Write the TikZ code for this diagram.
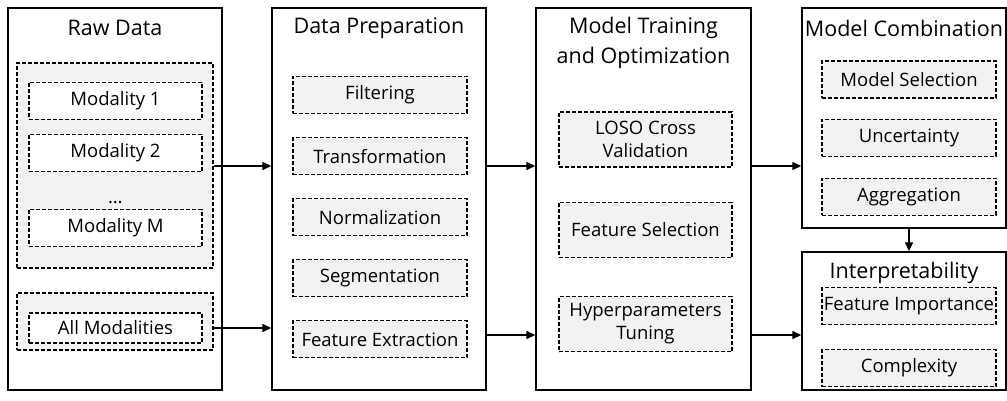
\documentclass[tikz,border=0pt]{standalone}
\usepackage{fontspec}
\setmainfont{Open Sans}
\usetikzlibrary{arrows.meta, positioning}

\begin{document}
\begin{tikzpicture}[->,>={Triangle[length=9pt,width=8pt]},x=1pt,y=-1pt,
  line width=1.4pt,node distance=23pt,
  stage/.style={draw,solid,line width=1.4pt,inner sep=0pt},
  stage title/.style={font=\fontsize{21.5}{30}\selectfont,align=center},
  group box/.style={draw,line width=1.1pt,dash pattern=on 4pt off 2pt,fill=gray!10,
    minimum width=196pt,inner sep=0pt},
  task/.style={draw,line width=1.1pt,dash pattern=on 4pt off 2pt,fill=gray!10,
    minimum width=174pt,minimum height=37pt,inner sep=0pt,align=center,
    font=\fontsize{18.5}{23}\selectfont},
  modality/.style={task,fill=white,minimum width=173pt}]
  \useasboundingbox (0,0) rectangle (1007,401);

  % the five stages
  \node[stage, minimum width=214pt, minimum height=382pt] (raw) at (115,199) {};
  \node[stage, minimum width=214pt, minimum height=382pt] (prep) at (379,199) {};
  \node[stage, minimum width=215pt, minimum height=382pt] (train) at (643.5,199) {};
  \node[stage, minimum width=204pt, minimum height=220pt] (comb) at (904,118) {};
  \node[stage, minimum width=204pt, minimum height=138pt] (interp) at (904,321) {};

  \node[stage title] (rawt) at (115,28) {Raw Data};
  \node[stage title] (prept) at (379,28) {Data Preparation};
  \node[stage title] (traint) at (643.5,43) {Model Training\\and Optimization};
  \node[stage title] (combt) at (904,28) {Model Combination};
  \node[stage title] (interpt) at (904,273) {Interpretability};

  % raw data
  \node[group box, minimum height=205pt] (single) at (115,165.5) {};
  \node[modality] (mod1) at (115.5,101) {Modality 1};
  \node[modality] (mod2) at (115.5,153) {Modality 2};
  \node[anchor=base, font=\fontsize{18.5}{23}\selectfont] (dots) at (115.5,204) {\dots};
  \node[modality] (modm) at (115.5,228) {Modality M};
  \node[group box, minimum height=57pt] (fused) at (115,321.5) {};
  \node[modality, minimum height=30pt] (allmod) at (115.5,328) {All Modalities};

  % data preparation
  \node[task] (filt) at (380,95) {Filtering};
  \node[task] (trans) [below=of filt] {Transformation};
  \node[task] (norm) [below=of trans] {Normalization};
  \node[task] (segm) [below=of norm] {Segmentation};
  \node[task] (featx) [below=of segm] {Feature Extraction};

  % model training
  \node[task, minimum width=173pt, minimum height=55pt] (loso) at (645.5,139.5) {LOSO Cross\\Validation};
  \node[task, minimum width=173pt, minimum height=55pt] (fsel) at (645.5,230) {Feature Selection};
  \node[task, minimum width=173pt, minimum height=55pt] (hpt) at (645.5,324) {Hyperparameters\\Tuning};

  % model combination
  \node[task] (msel) at (909,79.5) {Model Selection};
  \node[task] (unc) [below=20pt of msel] {Uncertainty};
  \node[task] (agg) [below=21pt of unc] {Aggregation};

  % interpretability
  \node[task] (fimp) at (909,306) {Feature Importance};
  \node[task] (cplx) [below=24pt of fimp] {Complexity};

  \coordinate (up) at (0,166);
  \coordinate (low) at (0,335);
  \path
    (single.east |- up) edge (prep.west |- up)
    (fused.east |- allmod) edge (prep.west |- allmod)
    (prep.east |- up) edge (train.west |- up)
    (prep.east |- low) edge (train.west |- low)
    (train.east |- up) edge (comb.west |- up)
    (train.east |- low) edge (interp.west |- low)
    (agg |- comb.south) edge (agg |- interp.north);
\end{tikzpicture}
\end{document}
